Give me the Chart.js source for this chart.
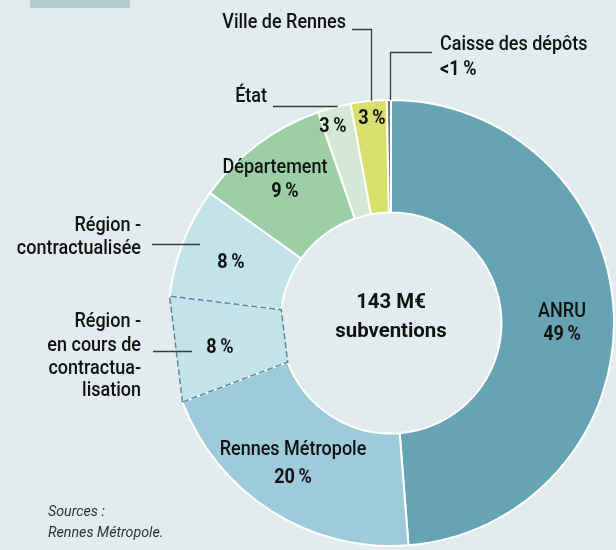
<!DOCTYPE html>
<html><head><meta charset="utf-8">
<script src="https://cdn.jsdelivr.net/npm/chart.js@4/dist/chart.umd.min.js"></script>
<style>
html,body{margin:0;padding:0;background:#e3eced;}
#wrap{position:relative;width:616px;height:550px;overflow:hidden;background:#e3eced;}
#tab{position:absolute;left:30px;top:0;width:100px;height:8px;background:#b3cbcb;}
canvas{position:absolute;left:0;top:0;}
</style></head><body>
<div id="wrap"><div id="tab"></div><canvas id="c" width="616" height="550"></canvas></div>
<script>
const categories = ['ANRU','Rennes Métropole','Région - en cours de contractualisation','Région - contractualisée','Département','État','Ville de Rennes','Caisse des dépôts'];
const shares = [48.8, 20.5, 7.7, 8.0, 9.8, 2.4, 2.6, 0.3];
const pctLabels = ['49\u2009%','20\u2009%','8\u2009%','8\u2009%','9\u2009%','3\u2009%','3\u2009%','<1\u2009%'];
const centerLines = ['143 M€','subventions'];
const sourceLines = ['Sources :','Rennes Métropole.'];
const sliceColors = ['#67a4b3','#9ecbda','#c2e3ea','#c2e3ea','#9dcfa6','#d3e9d5','#d8df6b','#6b7378'];

const FONT = 'Roboto, "Liberation Sans", sans-serif';
const DASHED = 2;

const annot = {
  id:'annot',
  afterDatasetsDraw(chart){
    const c = chart.ctx;
    const meta = chart.getDatasetMeta(0);
    const el = meta.data[DASHED];
    const p = el.getProps(['x','y','startAngle','endAngle','innerRadius','outerRadius'], true);
    const pt = (r, a) => [p.x + r*Math.cos(a), p.y + r*Math.sin(a)];
    const o1 = pt(p.outerRadius, p.startAngle), o2 = pt(p.outerRadius, p.endAngle);
    const i2 = pt(p.innerRadius, p.endAngle), i1 = pt(p.innerRadius, p.startAngle);
    c.save();
    c.beginPath();
    c.moveTo(o1[0],o1[1]); c.lineTo(o2[0],o2[1]); c.lineTo(i2[0],i2[1]); c.lineTo(i1[0],i1[1]);
    c.closePath();
    c.fillStyle = sliceColors[DASHED];
    c.fill();
    c.beginPath(); c.moveTo(i1[0],i1[1]); c.lineTo(o1[0],o1[1]);
    c.strokeStyle = '#ffffff'; c.lineWidth = 1.5; c.stroke();
    c.beginPath();
    c.moveTo(o1[0],o1[1]); c.lineTo(o2[0],o2[1]); c.lineTo(i2[0],i2[1]); c.lineTo(i1[0],i1[1]);
    c.closePath();
    c.setLineDash([6,3]);
    c.strokeStyle = '#5a8896';
    c.lineWidth = 1.5;
    c.stroke();
    c.restore();

    const cx = p.x, cy = p.y, R = p.outerRadius;
    const edgeY = (x) => cy - Math.sqrt(R*R - (x-cx)*(x-cx));

    // leader lines
    c.save();
    c.strokeStyle = '#3a3a3a';
    c.lineWidth = 1.3;
    const seg = (pts) => { c.beginPath(); c.moveTo(pts[0][0],pts[0][1]); for(let i=1;i<pts.length;i++) c.lineTo(pts[i][0],pts[i][1]); c.stroke(); };
    seg([[352,29.5],[371.5,29.5],[371.5,edgeY(371.5)]]);
    seg([[432,52.5],[390.5,52.5],[390.5,edgeY(390.5)]]);
    seg([[273,106.5],[337.5,106.5],[337.5,edgeY(337.5)]]);
    seg([[152,244.5],[200,244.5]]);
    seg([[153,351.5],[192,351.5]]);
    c.restore();

    // text
    c.save();
    c.fillStyle = '#111';
    c.textBaseline = 'middle';
    const t = (s, x, y, align, weight, size, style, sx) => {
      c.save();
      c.font = (style||'normal') + ' ' + (weight||'500') + ' ' + (size||20) + 'px ' + FONT;
      c.textAlign = align;
      c.translate(x, y);
      c.scale(sx || 0.9, 1);
      c.fillText(s, 0, 0);
      c.restore();
    };
    t(categories[6], 346, 23, 'right');
    t(categories[7], 440, 45, 'left');
    t(pctLabels[7], 440, 70, 'left', 'bold');
    t(categories[5], 267, 97, 'right');
    t('Région -', 141, 226, 'right');
    t('contractualisée', 141, 249, 'right');
    t('Région -', 141, 322, 'right');
    t('en cours de', 141, 346, 'right');
    t('contractua-', 141, 369, 'right');
    t('lisation', 141, 391, 'right');
    t(categories[4], 275, 168, 'center');
    t(pctLabels[4], 285, 192, 'center', 'bold');
    t(pctLabels[5], 333, 127, 'center', 'bold');
    t(pctLabels[6], 372, 119, 'center', 'bold');
    t(pctLabels[3], 231, 263, 'center', 'bold');
    t(pctLabels[2], 220, 348, 'center', 'bold');
    t(categories[1], 293, 450, 'center');
    t(pctLabels[1], 293, 478, 'center', 'bold');
    t(categories[0], 562, 312, 'center');
    t(pctLabels[0], 562, 335, 'center', 'bold');
    t(centerLines[0], cx, 303, 'center', 'bold', 21, 'normal', 0.97);
    t(centerLines[1], cx, 332, 'center', 'bold', 21, 'normal', 0.97);
    c.fillStyle = '#333';
    t(sourceLines[0], 48, 512, 'left', 'normal', 15, 'italic', 0.95);
    t(sourceLines[1], 48, 533, 'left', 'normal', 15, 'italic', 0.95);
    c.restore();
  }
};

new Chart(document.getElementById('c'), {
  type: 'doughnut',
  data: {
    labels: categories,
    datasets: [{
      data: shares,
      backgroundColor: sliceColors.map((col, i) => i === DASHED ? 'rgba(0,0,0,0)' : col),
      borderColor: '#ffffff',
      borderWidth: (ctx) => ctx.dataIndex === DASHED ? 0 : 2,
      radius: 223,
      cutout: 110,
      clip: false
    }]
  },
  options: {
    responsive: false,
    animation: false,
    layout: { padding: { left: 168, right: 2, top: 100, bottom: 4 } },
    plugins: { legend: { display: false }, tooltip: { enabled: false } }
  },
  plugins: [annot]
});
</script>
</body></html>
